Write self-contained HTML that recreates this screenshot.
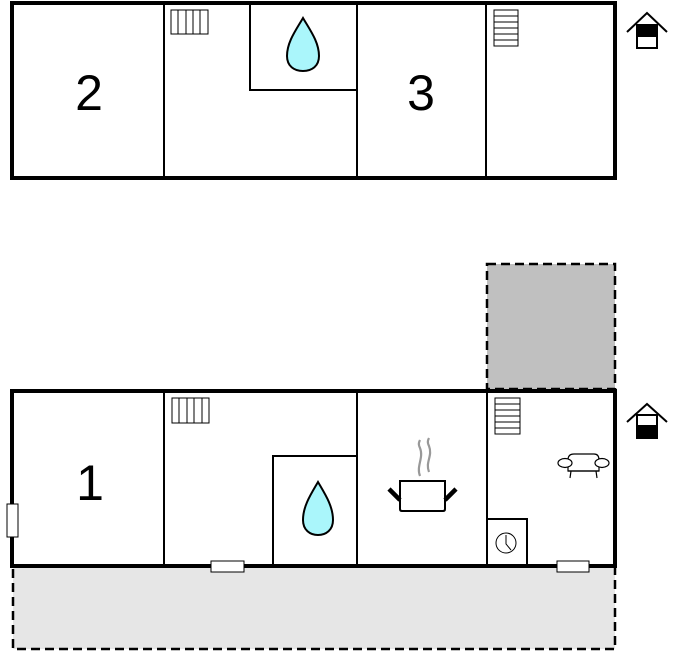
<!DOCTYPE html>
<html><head><meta charset="utf-8"><style>html,body{margin:0;padding:0;background:#fff;width:677px;height:652px;overflow:hidden}</style></head>
<body>
<svg width="677" height="652" viewBox="0 0 677 652" xmlns="http://www.w3.org/2000/svg">
<rect x="12" y="3" width="603" height="175" fill="#fff" stroke="#000" stroke-width="4"/>
<g stroke="#000" stroke-width="2" fill="none">
<line x1="164" y1="3" x2="164" y2="178"/>
<line x1="357" y1="3" x2="357" y2="178"/>
<line x1="486" y1="3" x2="486" y2="178"/>
<polyline points="250,3 250,90 357,90"/>
</g>
<g stroke="#000" stroke-width="1" fill="#fff">
<rect x="171" y="10" width="37" height="24"/>
<line x1="178" y1="10" x2="178" y2="34"/><line x1="186" y1="10" x2="186" y2="34"/><line x1="193" y1="10" x2="193" y2="34"/><line x1="200" y1="10" x2="200" y2="34"/>
<rect x="494" y="10" width="24" height="36"/>
<line x1="494" y1="16" x2="518" y2="16"/><line x1="494" y1="22" x2="518" y2="22"/><line x1="494" y1="28" x2="518" y2="28"/><line x1="494" y1="34" x2="518" y2="34"/><line x1="494" y1="40" x2="518" y2="40"/>
</g>
<path d="M303,18 C296,30 287,42 287,56 C287,66 294,71 303,71 C312,71 319,66 319,56 C319,42 310,30 303,18 Z" fill="#aaf6fb" stroke="#000" stroke-width="2"/>
<text x="89" y="110" font-family="Liberation Sans, sans-serif" font-size="50" text-anchor="middle">2</text>
<text x="421" y="110" font-family="Liberation Sans, sans-serif" font-size="50" text-anchor="middle">3</text>
<g stroke="#000" stroke-width="2" fill="#fff">
<polyline points="627,32 647,13 667,32" fill="none"/>
<rect x="637" y="25" width="20" height="23"/>
<rect x="637" y="25" width="20" height="11" fill="#000"/>
</g>
<rect x="487" y="264" width="128" height="125" fill="#c0c0c0" stroke="#000" stroke-width="2.5" stroke-dasharray="9,5"/>
<rect x="13" y="566" width="602" height="83" fill="#e6e6e6" stroke="#000" stroke-width="2.5" stroke-dasharray="9,5"/>
<rect x="12" y="391" width="603" height="175" fill="#fff" stroke="#000" stroke-width="4"/>
<g stroke="#000" stroke-width="2" fill="none">
<line x1="164" y1="391" x2="164" y2="566"/>
<line x1="357" y1="391" x2="357" y2="566"/>
<line x1="487" y1="391" x2="487" y2="566"/>
<polyline points="273,566 273,456 357,456"/>
<polyline points="487,519 527,519 527,566"/>
</g>
<g stroke="#000" stroke-width="1" fill="#fff">
<rect x="172" y="398" width="37" height="25"/>
<line x1="179" y1="398" x2="179" y2="423"/><line x1="187" y1="398" x2="187" y2="423"/><line x1="194" y1="398" x2="194" y2="423"/><line x1="202" y1="398" x2="202" y2="423"/>
<rect x="495" y="398" width="25" height="36"/>
<line x1="495" y1="404" x2="520" y2="404"/><line x1="495" y1="410" x2="520" y2="410"/><line x1="495" y1="416" x2="520" y2="416"/><line x1="495" y1="422" x2="520" y2="422"/><line x1="495" y1="428" x2="520" y2="428"/>
<rect x="7" y="504" width="11" height="33"/>
<rect x="211" y="561" width="33" height="11"/>
<rect x="557" y="561" width="32" height="11"/>
</g>
<path d="M318,482 C311,494 303,506 303,520 C303,530 310,535 318,535 C326,535 333,530 333,520 C333,506 325,494 318,482 Z" fill="#aaf6fb" stroke="#000" stroke-width="2"/>
<text x="90" y="500" font-family="Liberation Sans, sans-serif" font-size="50" text-anchor="middle">1</text>
<circle cx="506" cy="543" r="10" fill="none" stroke="#000" stroke-width="1"/>
<polyline points="506,535 506,544 511,550" fill="none" stroke="#000" stroke-width="1"/>
<g fill="none">
<path d="M420,476 C416,466 424,458 420,448 C418,444 419,442 420,440 M429,472 C425,462 433,456 429,446 C427,442 428,440 429,438" stroke="#999" stroke-width="2.2"/>
<path d="M400,481 L445,481 L445,509 Q445,511 443,511 L402,511 Q400,511 400,509 Z" stroke="#000" stroke-width="2" fill="#fff"/>
<line x1="400" y1="500" x2="389" y2="489" stroke="#000" stroke-width="4.5"/>
<line x1="445" y1="500" x2="456" y2="489" stroke="#000" stroke-width="4.5"/>
</g>
<g stroke="#000" stroke-width="1.2" fill="#fff">
<path d="M568,460 Q568,454 574,454 L594,454 Q599,454 599,460 L599,471 L568,471 Z"/>
<ellipse cx="565" cy="463" rx="7" ry="4.5"/>
<ellipse cx="602" cy="463" rx="7" ry="4.5"/>
<line x1="568" y1="471" x2="599" y2="471"/>
<line x1="571" y1="471" x2="570" y2="478"/>
<line x1="596" y1="471" x2="597" y2="478"/>
</g>
<g stroke="#000" stroke-width="2" fill="#fff">
<polyline points="627,422 647,404 667,422" fill="none"/>
<rect x="637" y="415" width="20" height="23"/>
<rect x="637" y="426" width="20" height="12" fill="#000"/>
</g>
</svg>
</body></html>
